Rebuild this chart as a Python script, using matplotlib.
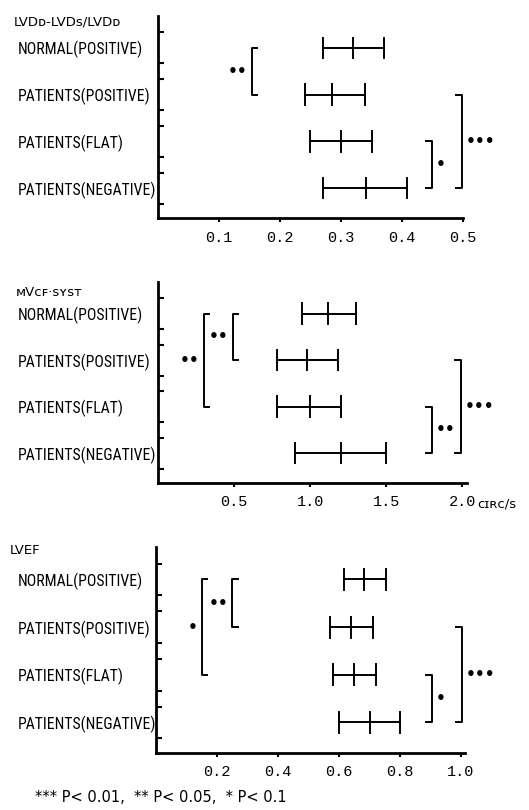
"""
Ejection-phase indices by exercise ECG response: mean with range bars
"""

import matplotlib
matplotlib.use("Agg")
import matplotlib.pyplot as plt

plt.rcParams['font.family'] = ['Roboto Condensed', 'DejaVu Sans']

groups = ["NORMAL(POSITIVE)", "PATIENTS(POSITIVE)", "PATIENTS(FLAT)", "PATIENTS(NEGATIVE)"]

# LVDd-LVDs/LVDd
fs_low = [0.270, 0.241, 0.249, 0.270]
fs_mean = [0.320, 0.285, 0.300, 0.341]
fs_high = [0.370, 0.339, 0.351, 0.408]
fs_ticks = [0.1, 0.2, 0.3, 0.4, 0.5]
fs_ticklabels = ["0.1", "0.2", "0.3", "0.4", "0.5"]
# (group a, group b, bracket x, marker, side)
fs_sig = [(0, 1, 0.154, "••", "left"),
          (2, 3, 0.449, "•", "right"),
          (1, 3, 0.498, "•••", "right")]

# mVcf-syst
mv_low = [0.945, 0.78, 0.78, 0.90]
mv_mean = [1.12, 0.98, 1.00, 1.20]
mv_high = [1.30, 1.18, 1.20, 1.50]
mv_ticks = [0.5, 1.0, 1.5, 2.0]
mv_ticklabels = ["0.5", "1.0", "1.5", "2.0"]
mv_sig = [(0, 1, 0.49, "••", "left"),
          (0, 2, 0.30, "••", "left"),
          (2, 3, 1.80, "••", "right"),
          (1, 3, 1.99, "•••", "right")]

# LVEF
ef_low = [0.616, 0.57, 0.58, 0.60]
ef_mean = [0.682, 0.64, 0.65, 0.70]
ef_high = [0.753, 0.71, 0.72, 0.80]
ef_ticks = [0.2, 0.4, 0.6, 0.8, 1.0]
ef_ticklabels = ["0.2", "0.4", "0.6", "0.8", "1.0"]
ef_sig = [(0, 1, 0.25, "••", "left"),
          (0, 2, 0.15, "•", "left"),
          (2, 3, 0.905, "•", "right"),
          (1, 3, 1.003, "•••", "right")]

W, H = 529, 810


def draw_panel(fig, rect, xmax, low, mean, high, ticks, ticklabels, sig, title):
    ax = fig.add_axes(rect)
    ypos = list(range(len(groups)))

    for y, lo, m, hi in zip(ypos, low, mean, high):
        ax.plot([lo, hi], [y, y], color="black", lw=1.4)
        for xv in (lo, m, hi):
            ax.plot([xv, xv], [y - 0.22, y + 0.22], color="black", lw=1.4)

    serif = 0.018 * xmax
    for a, b, x, mark, side in sig:
        s = serif if side == "left" else -serif
        ax.plot([x + s, x, x, x + s], [a, a, b, b], color="black", lw=1.4)
        off = -3 if side == "left" else 3
        ax.annotate(mark, xy=(x, (a + b) / 2), xytext=(off, 0),
                    textcoords="offset points", fontsize=11, fontweight="bold",
                    ha="right" if side == "left" else "left", va="center",
                    family="DejaVu Sans")

    ax.set_xlim(0, xmax)
    ax.set_ylim(3.64, -0.68)
    for sp in ("top", "right"):
        ax.spines[sp].set_visible(False)
    for sp in ("left", "bottom"):
        ax.spines[sp].set_linewidth(2)

    ax.set_xticks(ticks)
    ax.set_xticklabels(ticklabels, family=["Liberation Mono", "DejaVu Sans Mono"])
    ax.tick_params(axis="x", direction="out", length=3, width=1.5,
                   labelsize=11, pad=6)

    ax.set_yticks(ypos)
    ax.set_yticklabels(groups, ha="left")
    left_px = rect[0] * W
    ax.tick_params(axis="y", which="major", length=0, labelsize=11.3,
                   pad=(left_px - 18) * 0.72)
    ax.set_yticks([y + d for y in ypos for d in (-0.33, 0.33)], minor=True)
    ax.tick_params(axis="y", which="minor", direction="in", length=4, width=1.5)

    fig.text(title[1] / W, 1 - title[2] / H, title[0], fontsize=9.5,
             va="center", ha="left", family=["DejaVu Sans"])
    return ax


def main():
    fig = plt.figure(figsize=(W / 100, H / 100), dpi=100)

    draw_panel(fig, [158 / W, 1 - 218 / H, 305 / W, 202 / H], 0.5,
               fs_low, fs_mean, fs_high, fs_ticks, fs_ticklabels, fs_sig,
               ("LVDᴅ-LVDꜱ/LVDᴅ", 14, 22))
    ax2 = draw_panel(fig, [158 / W, 1 - 483 / H, 309 / W, 201 / H], 2.03,
                     mv_low, mv_mean, mv_high, mv_ticks, mv_ticklabels, mv_sig,
                     ("ᴍVᴄꜰ·ꜱʏꜱᴛ", 16, 292))
    ax2.annotate("ᴄɪʀᴄ/ꜱ", xy=(2.0, 0), xycoords=("data", "axes fraction"),
                 xytext=(11, -15), textcoords="offset points",
                 fontsize=9.5, ha="left", va="center", family="DejaVu Sans")
    draw_panel(fig, [156 / W, 1 - 753 / H, 309 / W, 206 / H], 1.013,
               ef_low, ef_mean, ef_high, ef_ticks, ef_ticklabels, ef_sig,
               ("LVEF", 10, 550))

    fig.text(35 / W, 1 - 797 / H, "*** P< 0.01,  ** P< 0.05,  * P< 0.1",
             fontsize=10.5, va="center", ha="left", family="DejaVu Sans")

    fig.savefig("out.png", dpi=100)
    plt.close(fig)


if __name__ == "__main__":
    main()
